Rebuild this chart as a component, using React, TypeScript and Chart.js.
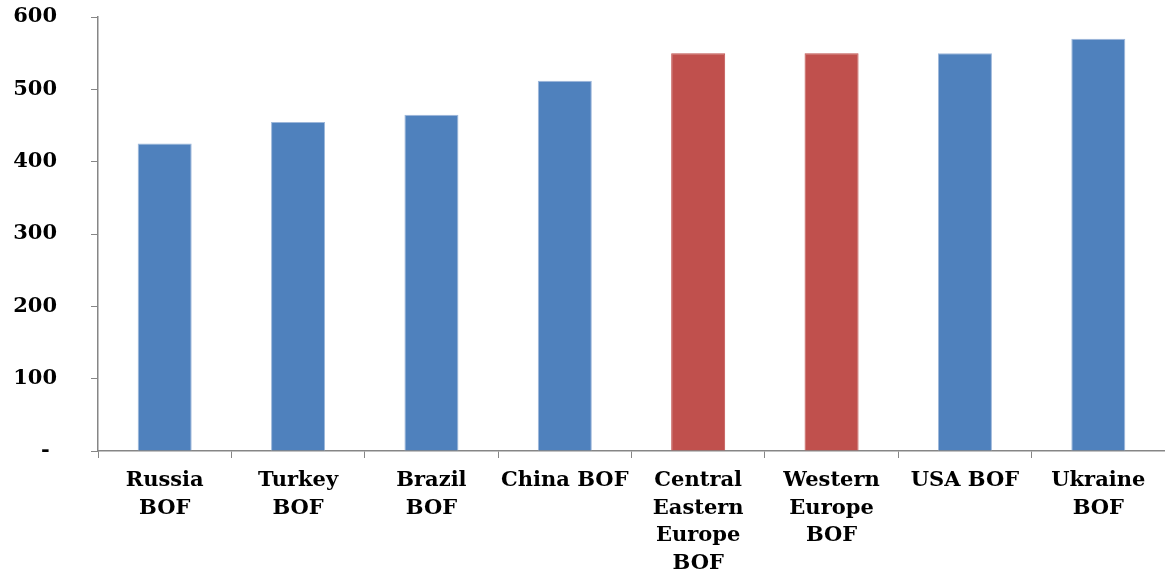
import React, { useEffect, useRef } from "react";
import { Chart, registerables } from "chart.js";

Chart.register(...registerables);

const categories: string[][] = [
  ["Russia", "BOF"],
  ["Turkey", "BOF"],
  ["Brazil", "BOF"],
  ["China BOF"],
  ["Central", "Eastern", "Europe", "BOF"],
  ["Western", "Europe", "BOF"],
  ["USA BOF"],
  ["Ukraine", "BOF"],
];

const values: number[] = [425, 455, 465, 512, 550, 550, 550, 570];

const highlighted: boolean[] = [false, false, false, false, true, true, false, false];

const yTickLabels: string[] = ["- ", "100", "200", "300", "400", "500", "600"];

const BLUE = "#4F81BD";
const RED = "#C0504D";
const BLUE_EDGE = "#9DB7DA";
const RED_EDGE = "#C0504D";
const AXIS = "#868686";
const FONT = "'DejaVu Serif', serif";

export default function App() {
  const ref = useRef<HTMLCanvasElement | null>(null);

  useEffect(() => {
    document.body.style.margin = "0";
    if (!ref.current) return;
    const chart = new Chart(ref.current, {
      type: "bar",
      data: {
        labels: categories,
        datasets: [
          {
            data: values,
            backgroundColor: highlighted.map((h) => (h ? RED : BLUE)),
            borderColor: highlighted.map((h) => (h ? RED_EDGE : BLUE_EDGE)),
            borderWidth: 1,
            barPercentage: 0.405,
            categoryPercentage: 1,
          },
        ],
      },
      options: {
        animation: false,
        responsive: false,
        maintainAspectRatio: false,
        layout: { padding: { top: 17, right: 0, left: 0, bottom: 0 } },
        plugins: {
          legend: { display: false },
          tooltip: { enabled: false },
        },
        scales: {
          x: {
            grid: {
              display: true,
              drawOnChartArea: false,
              drawTicks: true,
              tickLength: 7,
              color: AXIS,
              offset: true,
            },
            border: { display: true, color: AXIS, width: 1.5 },
            ticks: {
              color: "#000",
              font: { family: FONT, size: 21, weight: "bold", lineHeight: 1.31 },
              padding: 9,
              maxRotation: 0,
              minRotation: 0,
              autoSkip: false,
            },
            afterFit: (scale: any) => {
              scale.height = 126;
              scale.paddingLeft = 0;
              scale.paddingRight = 0;
            },
          },
          y: {
            min: 0,
            max: 600,
            grid: {
              display: true,
              drawOnChartArea: false,
              drawTicks: true,
              tickLength: 7,
              color: AXIS,
            },
            border: { display: true, color: AXIS, width: 1.5 },
            ticks: {
              stepSize: 100,
              color: "#000",
              font: { family: FONT, size: 21, weight: "bold" },
              padding: 34,
              callback: (v: any) => yTickLabels[Math.round(Number(v) / 100)],
            },
            afterFit: (scale: any) => {
              scale.width = 98;
              scale.paddingTop = 0;
              scale.paddingBottom = 0;
            },
          },
        },
      },
    });
    return () => chart.destroy();
  }, []);

  return (
    <div style={{ position: "absolute", left: 0, top: 0, width: 1165, height: 577 }}>
      <canvas ref={ref} width={1165} height={577} />
    </div>
  );
}
